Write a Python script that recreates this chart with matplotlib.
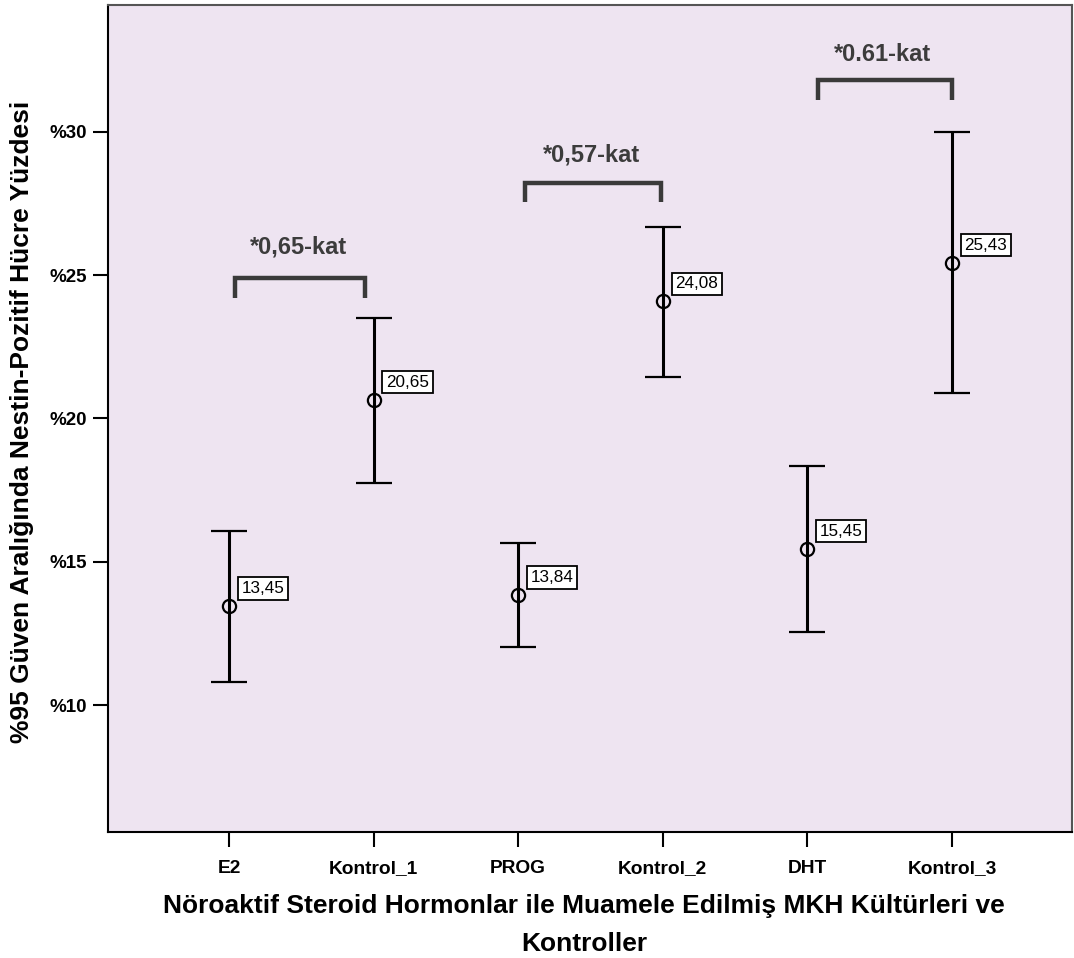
import matplotlib
matplotlib.use("Agg")
import matplotlib.pyplot as plt

plt.rcParams['font.family'] = ['Liberation Sans', 'DejaVu Sans']

categories = ["E2", "Kontrol_1", "PROG", "Kontrol_2", "DHT", "Kontrol_3"]
means = [13.45, 20.65, 13.84, 24.08, 15.45, 25.43]
ci_lower = [10.81, 17.76, 12.03, 21.43, 12.54, 20.88]
ci_upper = [16.08, 23.50, 15.64, 26.69, 18.35, 29.98]
mean_labels = ["13,45", "20,65", "13,84", "24,08", "15,45", "25,43"]

yticks = [10, 15, 20, 25, 30]
ytick_labels = ["%10", "%15", "%20", "%25", "%30"]

bracket_left = [0.04, 2.05, 4.07]
bracket_right = [0.94, 2.99, 5.00]
bracket_top = [24.9, 28.2, 31.81]
bracket_bottom = [24.2, 27.56, 31.11]
bracket_text = ["*0,65-kat", "*0,57-kat", "*0.61-kat"]
bracket_text_x = [0.48, 2.51, 4.52]
bracket_text_y = [25.98, 29.2, 32.68]

fig = plt.figure(figsize=(10.74, 9.58), dpi=100)
ax = fig.add_axes([108/1074, 1 - 832/958, (1072-108)/1074, (832-4.5)/958])
ax.set_facecolor('#EEE4F1')

x = list(range(len(categories)))
yerr = [[m - l for m, l in zip(means, ci_lower)], [u - m for m, u in zip(means, ci_upper)]]
ax.errorbar(x, means, yerr=yerr, fmt='o', color='black', ecolor='black',
            elinewidth=2.2, capsize=13, capthick=2.2, markersize=9.5,
            markerfacecolor='none', markeredgewidth=1.6, markeredgecolor='black', zorder=3)

for xi, m, lab in zip(x, means, mean_labels):
    ax.annotate(lab, (xi, m), xytext=(9, 7.3), textcoords='offset points',
                ha='left', va='bottom', fontsize=12.3, color='black',
                bbox=dict(boxstyle='square,pad=0.22', facecolor='white',
                          edgecolor='black', linewidth=1.3), zorder=4)

for l, r, t, b, txt, tx, ty in zip(bracket_left, bracket_right, bracket_top,
                                    bracket_bottom, bracket_text, bracket_text_x, bracket_text_y):
    ax.plot([l, l, r, r], [b, t, t, b], color='#3a3a3a', linewidth=3.2,
            solid_joinstyle='miter', solid_capstyle='butt', zorder=2)
    ax.text(tx, ty, txt, ha='center', va='center', fontsize=17, fontweight='bold',
            color='#3c3c3c')

ax.set_xlim(-0.837, 5.83)
ax.set_ylim(5.57, 34.44)
ax.set_xticks(x)
ax.set_xticklabels(categories, fontsize=13.8, fontweight='bold')
ax.set_yticks(yticks)
ax.set_yticklabels(ytick_labels, fontsize=13.5, fontweight='bold')
ax.tick_params(axis='both', length=11, width=1.5, color='black')
ax.tick_params(axis='x', pad=9)
ax.tick_params(axis='y', pad=4)

for s in ['left', 'bottom']:
    ax.spines[s].set_linewidth(1.5)
    ax.spines[s].set_color('black')
for s in ['top', 'right']:
    ax.spines[s].set_linewidth(1.5)
    ax.spines[s].set_color('#555555')

fig.text(584/1074, 1 - 906/958, "Nöroaktif Steroid Hormonlar ile Muamele Edilmiş MKH Kültürleri ve",
         ha='center', va='center', fontsize=19, fontweight='bold')
fig.text(584/1074, 1 - 944/958, "Kontroller",
         ha='center', va='center', fontsize=19, fontweight='bold')
fig.text(22/1074, 1 - 422/958, "%95 Güven Aralığında Nestin-Pozitif Hücre Yüzdesi",
         ha='center', va='center', rotation=90, fontsize=19, fontweight='bold')

fig.savefig("out.png", dpi=100)
